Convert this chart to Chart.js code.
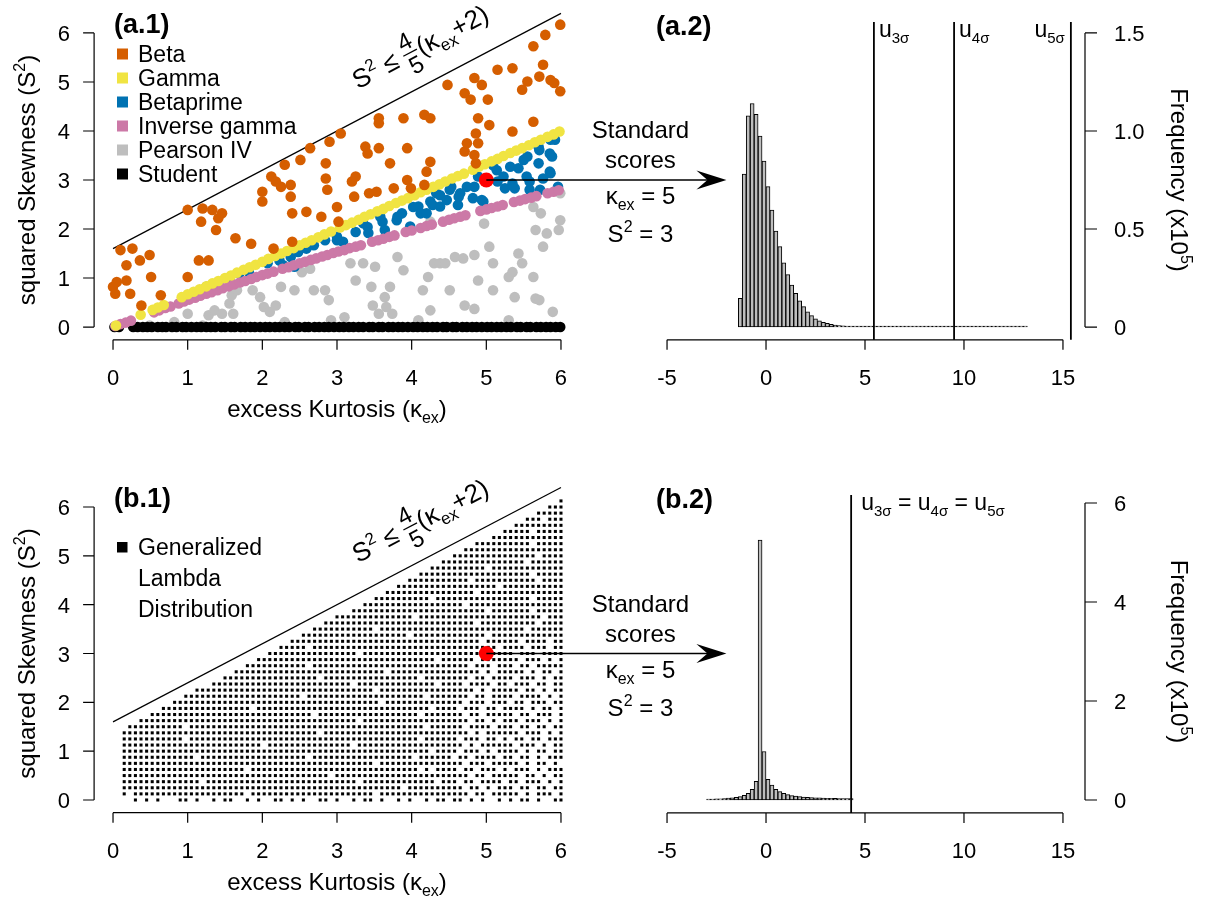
<!DOCTYPE html>
<html>
<head>
<meta charset="utf-8">
<script src="https://cdn.jsdelivr.net/npm/chart.js@4.4.1/dist/chart.umd.min.js"></script>
<style>
  body { margin: 0; background: #fff; }
  #wrap { position: relative; width: 1206px; height: 898px; }
  #wrap canvas { position: absolute; left: 0; top: 0; }
</style>
</head>
<body>
<div id="wrap">
  <canvas id="a1" width="1206" height="898"></canvas>
  <canvas id="b1" width="1206" height="898"></canvas>
  <canvas id="a2" width="1206" height="898"></canvas>
  <canvas id="b2" width="1206" height="898"></canvas>
</div>
<script>
const FONT = '"Liberation Sans", Arial, Helvetica, sans-serif';
const W = 1206, H = 898;

// ---------- data ----------
const kurtTicks = [0, 1, 2, 3, 4, 5, 6];
const skewTicks = [0, 1, 2, 3, 4, 5, 6];
const scoreTicks = [-5, 0, 5, 10, 15];
const freqTicksA = [0, 0.5, 1.0, 1.5];
const freqLabelsA = ['0', '0.5', '1.0', '1.5'];
const freqTicksB = [0, 2, 4, 6];

// S^2 <= 4/5 (k + 2)
const boundK = [0, 6];
const boundS2 = [1.6, 6.4];
const examplePoint = [5, 3];   // kurtosis 5, squared skewness 3

// [excess kurtosis, squared skewness]
const beta = [[0.0,0.82],[0.03,0.68],[0.05,0.92],[0.1,1.57],[0.18,1.26],[0.18,0.95],[0.23,0.68],[0.26,1.6],[0.36,1.36],[0.38,0.44],[0.49,1.47],[0.51,1.02],[0.64,0.65],
  [1.0,2.39],[1.0,1.02],[1.15,1.36],[1.18,2.15],[1.2,2.42],[1.28,1.36],[1.33,2.39],[1.38,1.98],[1.41,2.22],[1.46,2.32],[1.64,1.81],[1.85,1.7],
  [2.0,2.76],[2.0,2.56],[2.12,3.07],[2.15,1.6],[2.18,2.97],[2.25,2.86],[2.3,3.31],[2.38,2.9],[2.38,2.66],[2.4,2.32],[2.4,1.74],[2.51,3.41],[2.59,2.35],[2.64,3.65],[2.79,2.25],[2.85,3.34],[2.85,3.03],[2.87,2.8],[2.9,3.78],
  [3.0,2.45],[3.02,2.15],[3.05,3.95],[3.2,2.97],[3.23,2.66],[3.25,3.07],[3.38,3.68],[3.41,3.54],[3.43,2.73],[3.53,2.76],[3.56,3.65],[3.56,4.26],[3.56,4.16],[3.71,3.34],[3.76,2.83],[3.89,4.26],[3.94,3.65],[3.94,3.0],[3.99,2.83],
  [4.17,4.33],[4.17,2.9],[4.2,3.17],[4.25,4.26],[4.25,3.37],[4.48,4.94],[4.71,4.77],[4.71,3.58],[4.74,3.75],[4.79,4.64],[4.84,5.08],[4.84,3.51],[4.86,3.95],[4.86,3.34],[4.89,4.26],[4.89,3.75],[4.94,4.94],[5.02,4.64],[5.04,4.12],
  [5.15,5.25],[5.35,5.28],[5.35,3.99],[5.48,4.84],[5.55,5.01],[5.63,4.19],[5.63,5.73],[5.71,5.11],[5.76,5.35],[5.79,5.96],[5.86,5.04],[5.91,4.98],[5.99,6.17],[5.99,4.81]];

const gamma = [[0.04,0.03],[0.37,0.25],[0.53,0.35],[0.6,0.4],[0.68,0.45],[0.92,0.61],[1.0,0.67],[1.08,0.72],[1.16,0.77],[1.25,0.83],[1.33,0.89],[1.41,0.94],[1.5,1.0],[1.58,1.05],[1.66,1.11],[1.75,1.17],[1.83,1.22],[1.91,1.27],
  [2.0,1.33],[2.08,1.39],[2.17,1.45],[2.25,1.5],[2.33,1.55],[2.42,1.61],[2.5,1.67],[2.58,1.72],[2.66,1.77],[2.75,1.83],[2.83,1.89],[2.92,1.95],[3.04,2.03],[3.12,2.08],[3.2,2.13],[3.29,2.19],[3.37,2.25],[3.45,2.3],
  [3.54,2.36],[3.62,2.41],[3.7,2.47],[3.79,2.53],[3.87,2.58],[3.95,2.63],[4.04,2.69],[4.12,2.75],[4.2,2.8],[4.29,2.86],[4.37,2.91],[4.45,2.97],[4.54,3.03],[4.62,3.08],[4.7,3.13],[4.82,3.21],[4.9,3.27],[4.98,3.32],
  [5.07,3.38],[5.15,3.43],[5.23,3.49],[5.32,3.55],[5.4,3.6],[5.48,3.65],[5.57,3.71],[5.65,3.77],[5.73,3.82],[5.82,3.88],[5.9,3.93],[5.98,3.99]];

const betaprime = [[1.25,0.82],[1.41,0.92],[1.56,0.99],[1.69,1.09],[1.82,1.12],[2.07,1.3],[2.23,1.36],[2.28,1.26],[2.38,1.43],[2.43,1.23],[2.48,1.53],[2.59,1.6],[2.69,1.67],[2.84,1.77],
  [3.0,1.77],[3.0,1.84],[3.08,1.74],[3.25,1.94],[3.35,2.12],[3.41,2.04],[3.42,1.92],[3.58,2.25],[3.61,2.15],[3.64,1.98],[3.8,2.18],[3.81,2.25],[3.87,2.32],[3.98,2.05],
  [4.02,2.45],[4.09,2.46],[4.12,2.32],[4.2,2.32],[4.25,2.56],[4.28,2.49],[4.33,2.73],[4.38,2.46],[4.38,2.69],[4.47,2.59],[4.51,2.8],[4.53,2.86],[4.62,2.49],[4.63,2.66],[4.65,2.73],[4.74,2.86],[4.82,2.63],[4.84,2.86],[4.89,3.07],[4.94,2.59],[4.96,2.56],
  [5.09,3.3],[5.14,3.2],[5.15,2.97],[5.23,3.07],[5.25,2.83],[5.32,3.27],[5.35,2.93],[5.38,2.83],[5.43,3.24],[5.5,3.41],[5.54,3.07],[5.55,3.48],[5.58,2.8],[5.58,2.97],[5.7,3.68],[5.7,3.34],[5.71,3.61],[5.72,2.8],[5.76,3.03],[5.85,3.54],[5.85,3.17],[5.86,3.82],[5.86,3.14],[5.88,3.48],[5.92,3.82],[5.96,2.86]];

const invGamma = [[0.03,0.02],[0.1,0.06],[0.17,0.09],[0.24,0.13],[0.55,0.3],[0.62,0.34],[0.7,0.39],[0.77,0.42],[0.88,0.48],[0.95,0.52],[1.02,0.56],[1.1,0.6],[1.17,0.64],[1.25,0.68],[1.32,0.71],[1.4,0.75],[1.47,0.79],[1.55,0.83],[1.62,0.87],[1.7,0.91],[1.77,0.94],[1.85,0.98],[1.92,1.02],
  [2.0,1.06],[2.07,1.09],[2.15,1.13],[2.27,1.19],[2.35,1.22],[2.42,1.26],[2.5,1.3],[2.57,1.33],[2.65,1.37],[2.72,1.4],[2.8,1.44],[2.87,1.47],[2.95,1.51],[3.02,1.54],[3.1,1.57],[3.17,1.61],[3.25,1.64],[3.32,1.67],[3.47,1.74],[3.55,1.77],[3.62,1.8],[3.7,1.84],[3.77,1.87],[3.92,1.94],
  [4.0,1.97],[4.12,2.02],[4.2,2.06],[4.27,2.09],[4.42,2.15],[4.5,2.19],[4.57,2.22],[4.65,2.25],[4.72,2.28],[4.92,2.37],[5.0,2.4],[5.07,2.43],[5.15,2.46],[5.22,2.49],[5.37,2.55],[5.45,2.58],[5.52,2.61],[5.6,2.64],[5.67,2.67],[5.82,2.73],[5.9,2.76],[5.97,2.79]];

const pearsonIV = [[0.49,0.03],[0.82,0.1],[1.0,0.27],[1.2,0.03],[1.28,0.24],[1.36,0.34],[1.46,0.27],[1.56,0.48],[1.59,0.65],[1.61,0.27],[1.66,0.75],[1.87,0.75],[1.97,0.61],[2.02,0.41],[2.1,0.31],[2.18,0.44],[2.25,0.82],[2.3,0.1],[2.43,0.75],[2.53,1.12],[2.64,1.19],[2.69,0.75],[2.84,0.75],[2.89,0.55],[2.92,0.14],
  [3.1,0.2],[3.18,1.3],[3.25,0.95],[3.35,1.3],[3.46,0.82],[3.48,0.44],[3.51,1.23],[3.56,0.27],[3.64,0.61],[3.66,0.41],[3.71,0.82],[3.74,0.27],[3.81,1.43],[3.89,1.16],
  [4.09,0.14],[4.15,0.75],[4.22,1.02],[4.25,0.34],[4.25,2.15],[4.3,1.3],[4.38,1.3],[4.45,1.3],[4.51,0.75],[4.58,1.43],[4.69,1.4],[4.71,0.44],[4.84,1.47],[4.84,0.37],[4.89,0.95],[4.97,2.11],
  [5.04,1.64],[5.09,1.3],[5.09,0.75],[5.3,1.02],[5.3,0.14],[5.35,1.12],[5.38,0.61],[5.43,1.5],[5.48,1.3],[5.63,2.45],[5.63,1.02],[5.66,1.98],[5.66,0.58],[5.71,0.55],[5.73,2.32],[5.76,1.64],[5.81,1.91],[5.89,0.31],[5.97,1.98],[5.99,2.18],[5.99,2.73]];

// Student t: squared skewness is 0
const studentK = [0.02,0.08,0.27,0.33,0.4,0.46,0.52,0.6,0.66,0.71,0.79,0.85,0.93,0.98,1.05,1.12,1.18,1.25,1.31,1.37,1.45,1.5,1.58,1.63,1.71,1.77,1.84,1.9,1.97,
  2.04,2.1,2.17,2.23,2.3,2.36,2.44,2.49,2.57,2.62,2.7,2.76,2.83,2.89,2.96,3.03,3.09,3.16,3.22,3.29,3.35,3.43,3.48,3.56,3.61,3.69,3.75,3.82,3.88,3.95,
  4.02,4.08,4.15,4.21,4.28,4.34,4.42,4.47,4.55,4.6,4.68,4.74,4.81,4.87,4.94,5.01,5.07,5.14,5.2,5.27,5.33,5.41,5.46,5.54,5.59,5.67,5.73,5.8,5.86,5.93,5.99];

// Generalized Lambda cloud, read as a dot map: rows from S2 = 6.125 down to 0,
// each row right-aligned at kurtosis 6, '#' = dot (spaces only group the columns)
const gldTopS2 = 6.125, gldRowStep = 0.125, gldColStep = 0.075, gldRightK = 6.0;
const gldRows = [
  "#",
  "###",
  "#####",
  "###.###",
  "#########",
  "# ####.#####",
  "### ##########",
  "###### ####.#####",
  "######## ##########",
  "########## #####.####",
  "## ########## ###.######",
  "#### ######.### ##########",
  "###### ########## ####.#####",
  "######## ###.###### #####.####",
  "########## ########.# ##########",
  "## ########## ####.##### ##########",
  "#### ######.### ########## ####.#####",
  "###### ########## ##.####### ##########",
  "######## ########## ######.### ####.#####",
  "# ########## ###.###### ########## ######.###",
  "### ########## ########## ####.##### #####.####",
  "##### ######.### ########## ########## ###.######",
  "####### ########## ##.####### ######.### ##########",
  "######### ########## ########## #####.#### ##.####.##",
  "# ####.##### ########## ########## ########.# ###.###.##",
  "### ########## ###.###### ########## ######.### #.###.####",
  "##### ########## ########## #######.## ####.##### ##.###.#.#",
  "####### ####.##### ########## ########## ###.###.## #.##.#####",
  "######### ########## ########.# ########## #####.#.## ###.#.##.#",
  "# ########## ######.### ########## ####.##### ###.##.### #.###.#.##",
  "### ########## ########## ##.####### #######.## ##.####.## .###.##.##",
  "###### ########## ########## ######.### ########## ####.#.### ##.##.#.##",
  "######## ########## ###.###### ########## #####.#### ###.##.### #.####.#.#",
  "########## ########## ########## #######.## ########## ##.###.### .##.###.##",
  "## ########## ####.##### ########## ########## ######.### #.###.##.# ###.#.##.#",
  "#### ########## ########## #####.#### ########## ####.##### ##.##.#### #.##.###.#",
  "###### ########## ########## ########## ###.###### ########## ###.##.#.# ##.###.#.#",
  "######## ##.####### ########## ########## ########## #####.#### ##.####.## #.##.##.##",
  "######### ########## ########## ######.### ########## ########## ###.#.#### ##.###.#.#",
  "######### ##.####### ########## ########## ########## ####.##### #.###.##.# .##.##.###",
  "######### ########## ######.### ########## ##.####### ########## ##.#.##### #.###.#.##",
  "######### ########## ########## ########## ########## ######.### #.###.#.## ##.#.##.##",
  "######### ####.##### ########## ####.##### ########## ###.###### .##.####.# #.##.#.###",
  "######### ########## ########## ########## ######.### ########## ##.###.### ##.#.##.#.",
  "######### ########## ###.###### ########## ########## ####.#.### #.##.###.# .###.#.###",
  "######### ########## ########## ########.# ########## ########## ###.##.### ##.##.#.##",
  "######### #####.#### ########## ########## ###.###### #######.## #.##.####. ##.###.#.#",
  "######### ########## ########## ########## ########## #.######## ##.##.#.## #.##.##.##",
  "#.####### ########## ###.###### ########## ######.### ########## ###.##.### ##.#.###.#",
  "..#.#.#.. .##.#..#.# #..#.#..## .#.#..##.# ..#.##.#.. #.#..#.##. ##.#.#..#. #.##.#..##"
];

// histograms of standard scores (frequency x 10^5), bin width 0.2
const binWidth = 0.2;
const histAFrom = -1.4;
const histA = [0.146, 0.78, 1.077, 1.14, 1.085, 0.974, 0.847, 0.716, 0.597, 0.49,
  0.41, 0.328, 0.267, 0.214, 0.172, 0.134, 0.104, 0.078, 0.058, 0.042,
  0.032, 0.024, 0.019, 0.014, 0.010, 0.0075, 0.0058, 0.0046, 0.0037, 0.003,
  0.0025, 0.0021, 0.0018, 0.0015, 0.0013, 0.0011, 0.001, 0.0009, 0.0008, 0.0007,
  0.0006, 0.0006, 0.0005, 0.0005, 0.0004, 0.0004, 0.0004, 0.0003, 0.0003, 0.0003,
  0.0003, 0.0002, 0.0002, 0.0002, 0.0002, 0.0002, 0.0002, 0.0001, 0.0001, 0.0001,
  0.0001, 0.0001, 0.0001, 0.0001, 0.0001, 0.0001, 0.0001, 0.0001, 0.0001, 0.0001,
  0.0001, 0.0001, 0.0001];
const histBFrom = -3.0;
const histB = [0.015, 0.018, 0.022, 0.026, 0.031, 0.037, 0.045, 0.055, 0.07, 0.094,
  0.135, 0.215, 0.38, 5.25, 0.98, 0.42, 0.30, 0.215, 0.17, 0.135,
  0.11, 0.09, 0.078, 0.068, 0.06, 0.054, 0.049, 0.045, 0.042, 0.039,
  0.036, 0.034, 0.032, 0.030, 0.029, 0.028, 0.027];

const uA = [5.45, 9.5, 15.4];     // u3sigma, u4sigma, u5sigma
const uB = 4.3;                   // all three coincide
const arrowTipScore = -2.0;

const colors = { beta: '#D55E00', gamma: '#F0E442', betaprime: '#0072B2', invGamma: '#CC79A7', pearson: '#BEBEBE', student: '#000000' };

// ---------- helpers ----------
const pts = arr => arr.map(([x, y]) => ({ x, y }));
const binPts = (from, vals) => vals.map((v, i) => ({ x: from + binWidth * (i + 0.5), y: v }));

const gldPoints = [];
gldRows.forEach((row, i) => {
  const cells = row.replace(/ /g, '');
  const n = cells.length;
  for (let j = 0; j < n; j++) {
    if (cells[j] === '#') gldPoints.push({ x: gldRightK - gldColStep * (n - 1 - j), y: gldTopS2 - gldRowStep * i });
  }
});

function rich(ctx, parts, x, y, size, align) {
  const small = Math.round(size * 0.66);
  const segs = parts.map(p => typeof p === 'string' ? { t: p, s: size, dy: 0 }
    : { t: p[0], s: small, dy: p[1] === 'sup' ? -size * 0.4 : size * 0.25 });
  let total = 0;
  segs.forEach(g => { ctx.font = g.s + 'px ' + FONT; g.w = ctx.measureText(g.t).width; total += g.w; });
  let cx = align === 'center' ? x - total / 2 : (align === 'right' ? x - total : x);
  ctx.textAlign = 'left';
  ctx.textBaseline = 'alphabetic';
  segs.forEach(g => { ctx.font = g.s + 'px ' + FONT; ctx.fillText(g.t, cx, y + g.dy); cx += g.w; });
  return total;
}

function xAxis(ctx, sc, y, ticks) {
  const x0 = sc.getPixelForValue(ticks[0]), x1 = sc.getPixelForValue(ticks[ticks.length - 1]);
  ctx.beginPath();
  ctx.moveTo(x0, y); ctx.lineTo(x1, y);
  ticks.forEach(t => { const x = sc.getPixelForValue(t); ctx.moveTo(x, y); ctx.lineTo(x, y + 10); });
  ctx.stroke();
  ctx.font = '22px ' + FONT; ctx.textAlign = 'center'; ctx.textBaseline = 'alphabetic';
  ticks.forEach(t => ctx.fillText(String(t), sc.getPixelForValue(t), y + 45));
}

function yAxisLeft(ctx, sc, x, ticks) {
  const y0 = sc.getPixelForValue(ticks[0]), y1 = sc.getPixelForValue(ticks[ticks.length - 1]);
  ctx.beginPath();
  ctx.moveTo(x, y0); ctx.lineTo(x, y1);
  ticks.forEach(t => { const y = sc.getPixelForValue(t); ctx.moveTo(x, y); ctx.lineTo(x - 11, y); });
  ctx.stroke();
  ctx.font = '22px ' + FONT; ctx.textAlign = 'right'; ctx.textBaseline = 'alphabetic';
  ticks.forEach(t => ctx.fillText(String(t), x - 24, sc.getPixelForValue(t) + 8));
}

function yAxisRight(ctx, sc, x, ticks, labels) {
  const y0 = sc.getPixelForValue(ticks[0]), y1 = sc.getPixelForValue(ticks[ticks.length - 1]);
  ctx.beginPath();
  ctx.moveTo(x, y0); ctx.lineTo(x, y1);
  ticks.forEach(t => { const y = sc.getPixelForValue(t); ctx.moveTo(x, y); ctx.lineTo(x + 12, y); });
  ctx.stroke();
  ctx.font = '22px ' + FONT; ctx.textAlign = 'left'; ctx.textBaseline = 'alphabetic';
  ticks.forEach((t, i) => ctx.fillText(labels[i], x + 29, sc.getPixelForValue(t) + 8));
  const mid = (y0 + y1) / 2;
  ctx.save();
  ctx.translate(x + 86, mid);
  ctx.rotate(Math.PI / 2);
  rich(ctx, ['Frequency (x10', ['5', 'sup'], ')'], 0, 0, 24, 'center');
  ctx.restore();
}

function kurtSkewFrame(chart, label) {
  const { ctx, chartArea: ca } = chart;
  const xs = chart.scales.x, ys = chart.scales.y;
  ctx.save();
  ctx.strokeStyle = '#000'; ctx.fillStyle = '#000'; ctx.lineWidth = 1.2;
  xAxis(ctx, xs, ca.bottom + 1, kurtTicks);
  yAxisLeft(ctx, ys, ca.left - 1, skewTicks);
  const xm = (xs.getPixelForValue(0) + xs.getPixelForValue(6)) / 2;
  rich(ctx, ['excess Kurtosis (\u03BA', ['ex', 'sub'], ')'], xm, ca.bottom + 78, 24, 'center');
  ctx.save();
  ctx.translate(35, (ys.getPixelForValue(0) + ys.getPixelForValue(6)) / 2);
  ctx.rotate(-Math.PI / 2);
  rich(ctx, ['squared Skewness (S', ['2', 'sup'], ')'], 0, 0, 24, 'center');
  ctx.restore();
  ctx.font = 'bold 27px ' + FONT; ctx.textAlign = 'left';
  ctx.fillText(label, 114, ys.getPixelForValue(6) + 0);

  // bound formula along the line
  const x0 = xs.getPixelForValue(boundK[0]), y0 = ys.getPixelForValue(boundS2[0]);
  const x1 = xs.getPixelForValue(boundK[1]), y1 = ys.getPixelForValue(boundS2[1]);
  const ang = Math.atan2(y1 - y0, x1 - x0);
  const t = 0.575, d = 27;
  ctx.translate(x0 + (x1 - x0) * t + d * Math.sin(ang), y0 + (y1 - y0) * t - d * Math.cos(ang));
  ctx.rotate(ang);
  let cx = rich(ctx, ['S', ['2', 'sup'], ' \u2264 '], 0, 0, 26, 'left');
  ctx.font = '24px ' + FONT;
  const fw = ctx.measureText('4').width;
  ctx.textAlign = 'center';
  ctx.fillText('4', cx + fw / 2 + 1, -12.5);
  ctx.fillText('5', cx + fw / 2 + 1, 13.5);
  ctx.fillRect(cx, -9, fw + 2, 1.3);
  cx += fw + 3;
  rich(ctx, ['(\u03BA', ['ex', 'sub'], '+2)'], cx, 0, 26, 'left');
  ctx.restore();
}

function arrowNote(ctx, fromX, fromY, tipX) {
  ctx.save();
  ctx.strokeStyle = '#000'; ctx.fillStyle = '#000'; ctx.lineWidth = 1.5;
  ctx.beginPath(); ctx.moveTo(fromX, fromY); ctx.lineTo(tipX - 16, fromY); ctx.stroke();
  ctx.beginPath();
  ctx.moveTo(tipX, fromY);
  ctx.lineTo(tipX - 30, fromY - 9.5);
  ctx.lineTo(tipX - 19, fromY);
  ctx.lineTo(tipX - 30, fromY + 9.5);
  ctx.closePath(); ctx.fill();
  const cx = tipX - 86;
  ctx.font = '24px ' + FONT; ctx.textAlign = 'center'; ctx.textBaseline = 'alphabetic';
  ctx.fillText('Standard', cx, fromY - 42);
  ctx.fillText('scores', cx, fromY - 12);
  rich(ctx, ['\u03BA', ['ex', 'sub'], ' = 5'], cx, fromY + 24, 24, 'center');
  rich(ctx, ['S', ['2', 'sup'], ' = 3'], cx, fromY + 62, 24, 'center');
  ctx.restore();
}

function baseOptions(area, xr, yr) {
  return {
    responsive: false, animation: false, events: [], devicePixelRatio: 1,
    layout: { padding: { left: area[0], top: area[1], right: W - area[2], bottom: H - area[3] } },
    scales: {
      x: { type: 'linear', display: false, min: xr[0], max: xr[1], offset: false },
      y: { type: 'linear', display: false, min: yr[0], max: yr[1] }
    },
    plugins: { legend: { display: false }, tooltip: { enabled: false } }
  };
}

const dot = (label, data, color, r) => ({ label, data, backgroundColor: color, borderWidth: 0, pointRadius: r, clip: false });
const boundLine = () => ({ type: 'line', label: 'bound', data: pts(boundK.map((k, i) => [k, boundS2[i]])),
  borderColor: '#000', borderWidth: 1.2, pointRadius: 0, clip: false, showLine: true });
const redDot = () => dot('example', pts([examplePoint]), '#FF0000', 7.5);

// ---------- (a.1) ----------
const legendA = [['Beta', colors.beta], ['Gamma', colors.gamma], ['Betaprime', colors.betaprime],
  ['Inverse gamma', colors.invGamma], ['Pearson IV', colors.pearson], ['Student', colors.student]];

const chartA1 = new Chart(document.getElementById('a1'), {
  type: 'scatter',
  data: { datasets: [
    redDot(),
    dot('Beta', pts(beta), colors.beta, 5.3),
    dot('Gamma', pts(gamma), colors.gamma, 5.3),
    dot('Inverse gamma', pts(invGamma), colors.invGamma, 5.3),
    dot('Betaprime', pts(betaprime), colors.betaprime, 5.3),
    dot('Student', studentK.map(k => ({ x: k, y: 0 })), colors.student, 5.3),
    dot('Pearson IV', pts(pearsonIV), colors.pearson, 5.3),
    boundLine()
  ] },
  options: baseOptions([95.1, 21.2, 578.9, 338.8], [-0.24, 6.24], [-0.24, 6.24]),
  plugins: [{ id: 'frameA1', afterDraw(chart) {
    kurtSkewFrame(chart, '(a.1)');
    const ctx = chart.ctx;
    ctx.save();
    legendA.forEach(([name, col], i) => {
      const y = 54 + 24 * i;
      ctx.fillStyle = col; ctx.fillRect(117, y - 5.5, 11, 11);
      ctx.fillStyle = '#000'; ctx.font = '23px ' + FONT; ctx.textAlign = 'left'; ctx.textBaseline = 'alphabetic';
      ctx.fillText(name, 138, y + 8.3);
    });
    ctx.restore();
  } }]
});

// ---------- (b.1) ----------
const chartB1 = new Chart(document.getElementById('b1'), {
  type: 'scatter',
  data: { datasets: [
    redDot(),
    { label: 'Generalized Lambda Distribution', data: gldPoints, backgroundColor: '#000', borderWidth: 0, pointRadius: 2.15, pointStyle: 'rect', clip: false },
    boundLine()
  ] },
  options: baseOptions([95.1, 495.3, 578.9, 811.7], [-0.24, 6.24], [-0.24, 6.24]),
  plugins: [{ id: 'frameB1', afterDraw(chart) {
    kurtSkewFrame(chart, '(b.1)');
    const ctx = chart.ctx;
    ctx.save();
    ctx.fillStyle = '#000'; ctx.fillRect(117, 542, 10.5, 10.5);
    ctx.font = '23px ' + FONT; ctx.textAlign = 'left'; ctx.textBaseline = 'alphabetic';
    ['Generalized', 'Lambda', 'Distribution'].forEach((s, i) => ctx.fillText(s, 138, 555 + 30.8 * i));
    ctx.restore();
  } }]
});

// ---------- histograms ----------
const histSet = (from, vals) => ({ type: 'bar', label: 'Standard scores', data: binPts(from, vals),
  backgroundColor: '#BEBEBE', borderColor: '#000', borderWidth: 1, borderSkipped: false,
  barPercentage: 1, categoryPercentage: 1, minBarLength: 1 });

function uLine(ctx, x, top, bottom) {
  ctx.beginPath(); ctx.moveTo(x, top); ctx.lineTo(x, bottom); ctx.stroke();
}

const chartA2 = new Chart(document.getElementById('a2'), {
  type: 'bar',
  data: { datasets: [histSet(histAFrom, histA)] },
  options: baseOptions([651.2, 21.2, 1078.8, 338.8], [-5.8, 15.8], [-0.06, 1.56]),
  plugins: [{ id: 'frameA2', afterDraw(chart) {
    const { ctx, chartArea: ca } = chart;
    const xs = chart.scales.x, ys = chart.scales.y;
    ctx.save();
    ctx.strokeStyle = '#000'; ctx.fillStyle = '#000'; ctx.lineWidth = 1.2;
    xAxis(ctx, xs, ca.bottom + 1, scoreTicks);
    yAxisRight(ctx, ys, 1085, freqTicksA, freqLabelsA);
    ctx.lineWidth = 1.8;
    const top = 22, bot = ca.bottom + 1;
    uA.forEach(u => uLine(ctx, xs.getPixelForValue(u), top, bot));
    rich(ctx, ['u', ['3\u03C3', 'sub']], xs.getPixelForValue(uA[0]) + 5, 37, 23, 'left');
    rich(ctx, ['u', ['4\u03C3', 'sub']], xs.getPixelForValue(uA[1]) + 5, 37, 23, 'left');
    rich(ctx, ['u', ['5\u03C3', 'sub']], xs.getPixelForValue(uA[2]) - 6, 37, 23, 'right');
    ctx.font = 'bold 27px ' + FONT; ctx.textAlign = 'left';
    ctx.fillText('(a.2)', 656, 35);
    ctx.restore();
    const a1x = chartA1.scales.x.getPixelForValue(examplePoint[0]);
    const a1y = chartA1.scales.y.getPixelForValue(examplePoint[1]);
    arrowNote(ctx, a1x, a1y, xs.getPixelForValue(arrowTipScore));
  } }]
});

const chartB2 = new Chart(document.getElementById('b2'), {
  type: 'bar',
  data: { datasets: [histSet(histBFrom, histB)] },
  options: baseOptions([651.2, 491.1, 1078.8, 811.9], [-5.8, 15.8], [-0.24, 6.24]),
  plugins: [{ id: 'frameB2', afterDraw(chart) {
    const { ctx, chartArea: ca } = chart;
    const xs = chart.scales.x, ys = chart.scales.y;
    ctx.save();
    ctx.strokeStyle = '#000'; ctx.fillStyle = '#000'; ctx.lineWidth = 1.2;
    xAxis(ctx, xs, ca.bottom + 1, scoreTicks);
    yAxisRight(ctx, ys, 1085, freqTicksB, freqTicksB.map(String));
    ctx.lineWidth = 1.8;
    const xu = xs.getPixelForValue(uB);
    uLine(ctx, xu, 495, ca.bottom + 1);
    rich(ctx, ['u', ['3\u03C3', 'sub'], ' = u', ['4\u03C3', 'sub'], ' = u', ['5\u03C3', 'sub']], xu + 10, 510, 23, 'left');
    ctx.font = 'bold 27px ' + FONT; ctx.textAlign = 'left';
    ctx.fillText('(b.2)', 656, 508);
    ctx.restore();
    const bx = chartB1.scales.x.getPixelForValue(examplePoint[0]);
    const by = chartB1.scales.y.getPixelForValue(examplePoint[1]);
    arrowNote(ctx, bx, by, xs.getPixelForValue(arrowTipScore));
  } }]
});
</script>
</body>
</html>
